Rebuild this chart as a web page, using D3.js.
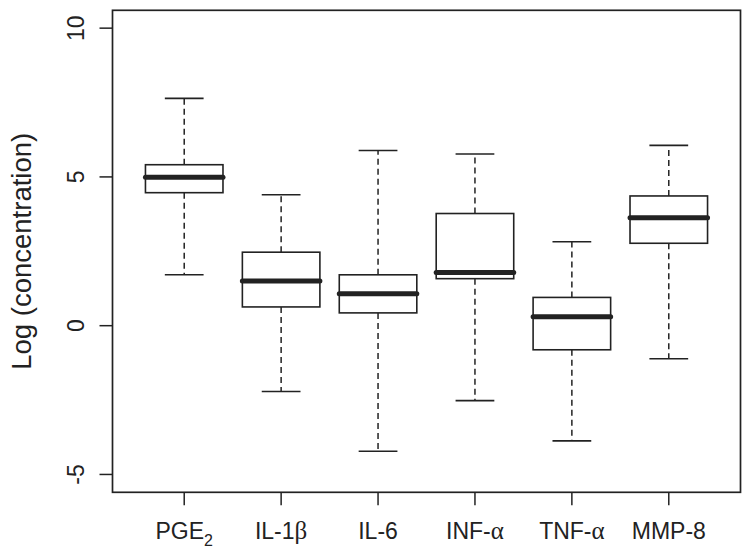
<!DOCTYPE html>
<meta charset="utf-8">
<style>
body { margin: 0; background: #fff; }
text { font-family: "Liberation Sans", Arial, sans-serif; fill: #222; }
</style>
<svg id="chart" width="751" height="557"></svg>
<script src="https://d3js.org/d3.v7.min.js"></script>
<script>

var categories = ["PGE2", "IL-1β", "IL-6", "INF-α", "TNF-α", "MMP-8"];
var lowWhisker = [1.71, -2.21, -4.22, -2.52, -3.87, -1.11];
var q1 = [4.47, 0.63, 0.43, 1.58, -0.81, 2.77];
var median = [4.99, 1.50, 1.07, 1.79, 0.30, 3.63];
var q3 = [5.41, 2.47, 1.71, 3.77, 0.95, 4.36];
var highWhisker = [7.64, 4.40, 5.89, 5.77, 2.82, 6.06];
var yTicks = [-5, 0, 5, 10];

var svg = d3.select("#chart");
var ink = "#222";

var x = d3.scaleLinear().domain([0.26, 6.74]).range([112.5, 740.5]);
var y = d3.scaleLinear().domain([-5.6, 10.6]).range([492.3, 10.3]);

var unit = x(2) - x(1);
var boxW = unit * 0.8, capW = boxW * 0.5;

// frame
svg.append("rect")
  .attr("x", x(0.26)).attr("y", y(10.6))
  .attr("width", x(6.74) - x(0.26)).attr("height", y(-5.6) - y(10.6))
  .attr("fill", "none").attr("stroke", ink).attr("stroke-width", 1.7);

// y axis
var yAxis = svg.append("g");
yAxis.selectAll("line").data(yTicks).enter().append("line")
  .attr("x1", x(0.26) - 13).attr("x2", x(0.26))
  .attr("y1", function(d) { return y(d); }).attr("y2", function(d) { return y(d); })
  .attr("stroke", ink).attr("stroke-width", 1.5);
yAxis.selectAll("text").data(yTicks).enter().append("text")
  .attr("transform", function(d) { return "translate(84," + y(d) + ") rotate(-90)"; })
  .attr("text-anchor", "middle")
  .style("font-size", "23px")
  .text(function(d) { return d; });

svg.append("text")
  .attr("transform", "translate(31," + y(2.5) + ") rotate(-90)")
  .attr("text-anchor", "middle")
  .style("font-size", "27.5px")
  .text("Log (concentration)");

// x axis
var xAxis = svg.append("g");
xAxis.selectAll("line").data(categories).enter().append("line")
  .attr("x1", function(d, i) { return x(i + 1); }).attr("x2", function(d, i) { return x(i + 1); })
  .attr("y1", y(-5.6)).attr("y2", y(-5.6) + 13)
  .attr("stroke", ink).attr("stroke-width", 1.5);

var lab = xAxis.selectAll("text").data(categories).enter().append("text")
  .attr("x", function(d, i) { return x(i + 1); })
  .attr("y", 539)
  .attr("text-anchor", "middle")
  .style("font-size", "23px");
lab.each(function(d) {
  var t = d3.select(this);
  if (d === "PGE2") {
    t.append("tspan").text("PGE");
    t.append("tspan").attr("dy", 7).style("font-size", "16px").text("2");
  } else if (/[αβ]$/.test(d)) {
    t.append("tspan").text(d.slice(0, -1));
    t.append("tspan").style("font-family", "'Liberation Serif', serif").style("font-size", "25px").text(d.slice(-1));
  } else {
    t.text(d);
  }
});

// boxes
var g = svg.selectAll(".box").data(categories).enter().append("g").attr("class", "box");

g.append("line") // upper whisker
  .attr("x1", function(d, i) { return x(i + 1); }).attr("x2", function(d, i) { return x(i + 1); })
  .attr("y1", function(d, i) { return y(q3[i]); }).attr("y2", function(d, i) { return y(highWhisker[i]); })
  .attr("stroke", ink).attr("stroke-width", 1.5).attr("stroke-dasharray", "6,4");
g.append("line") // lower whisker
  .attr("x1", function(d, i) { return x(i + 1); }).attr("x2", function(d, i) { return x(i + 1); })
  .attr("y1", function(d, i) { return y(q1[i]); }).attr("y2", function(d, i) { return y(lowWhisker[i]); })
  .attr("stroke", ink).attr("stroke-width", 1.5).attr("stroke-dasharray", "6,4");

[highWhisker, lowWhisker].forEach(function(arr) {
  g.append("line")
    .attr("x1", function(d, i) { return x(i + 1) - capW / 2; }).attr("x2", function(d, i) { return x(i + 1) + capW / 2; })
    .attr("y1", function(d, i) { return y(arr[i]); }).attr("y2", function(d, i) { return y(arr[i]); })
    .attr("stroke", ink).attr("stroke-width", 1.6);
});

g.append("rect")
  .attr("x", function(d, i) { return x(i + 1) - boxW / 2; })
  .attr("y", function(d, i) { return y(q3[i]); })
  .attr("width", boxW)
  .attr("height", function(d, i) { return y(q1[i]) - y(q3[i]); })
  .attr("fill", "#fff").attr("stroke", ink).attr("stroke-width", 1.6);

g.append("line")
  .attr("x1", function(d, i) { return x(i + 1) - boxW / 2; }).attr("x2", function(d, i) { return x(i + 1) + boxW / 2; })
  .attr("y1", function(d, i) { return y(median[i]); }).attr("y2", function(d, i) { return y(median[i]); })
  .attr("stroke", ink).attr("stroke-width", 5).attr("stroke-linecap", "round");

</script>
